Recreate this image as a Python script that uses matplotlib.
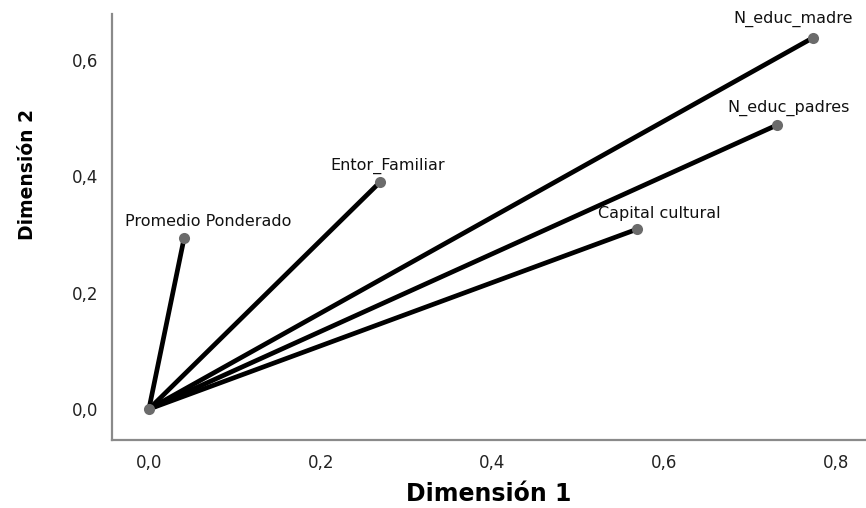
import matplotlib
matplotlib.use("Agg")
import matplotlib.pyplot as plt
from matplotlib.ticker import FixedLocator, FuncFormatter

# Component loadings
variables = ["Promedio Ponderado", "Entor_Familiar", "N_educ_madre",
             "N_educ_padres", "Capital cultural"]
dim1 = [0.041, 0.269, 0.773, 0.731, 0.568]
dim2 = [0.294, 0.390, 0.638, 0.488, 0.309]
xticks = [0.0, 0.2, 0.4, 0.6, 0.8]
yticks = [0.0, 0.2, 0.4, 0.6]

# label offsets (pixels) - styling only
label_offsets = [(24, 17), (8, 16), (-20, 19), (12, 17), (23, 16)]

fig = plt.figure(figsize=(8.66, 5.08), dpi=100)
ax = fig.add_axes([0.1293, 0.1339, 0.8707, 0.8385])

for xv, yv in zip(dim1, dim2):
    ax.plot([0, xv], [0, yv], color="black", lw=3.4, solid_capstyle="round", zorder=2)
ax.plot([0], [0], "o", color="#6b6b6b", ms=8, mec="none", zorder=3)
ax.plot(dim1, dim2, "o", color="#6b6b6b", ms=8, mec="none", zorder=3, linestyle="none")

for name, xv, yv, off in zip(variables, dim1, dim2, label_offsets):
    ax.annotate(name, (xv, yv), xytext=off, textcoords="offset pixels",
                ha="center", va="center", fontsize=11.5, color="#111111",
                family="DejaVu Sans", annotation_clip=False)

ax.set_xlim(-0.043, 0.835)
ax.set_ylim(-0.053, 0.679)
ax.xaxis.set_major_locator(FixedLocator(xticks))
ax.yaxis.set_major_locator(FixedLocator(yticks))
fmt = FuncFormatter(lambda v, p: f"{v:.1f}".replace(".", ","))
ax.xaxis.set_major_formatter(fmt)
ax.yaxis.set_major_formatter(fmt)
ax.tick_params(length=0, pad=10, labelsize=12, labelcolor="#222222")

for s in ["top", "right"]:
    ax.spines[s].set_visible(False)
for s in ["left", "bottom"]:
    ax.spines[s].set_color("#8a8a8a")
    ax.spines[s].set_linewidth(1.6)

ax.set_xlabel("Dimensión 1", fontsize=17, fontweight="bold",
              family="DejaVu Sans")
ax.xaxis.set_label_coords(0.5, -0.098)
ax.set_ylabel("Dimensión 2", fontsize=13.5, fontweight="bold",
              family="DejaVu Sans")
ax.yaxis.set_label_coords(-0.1, 0.624)

fig.savefig("out.png", dpi=100)
